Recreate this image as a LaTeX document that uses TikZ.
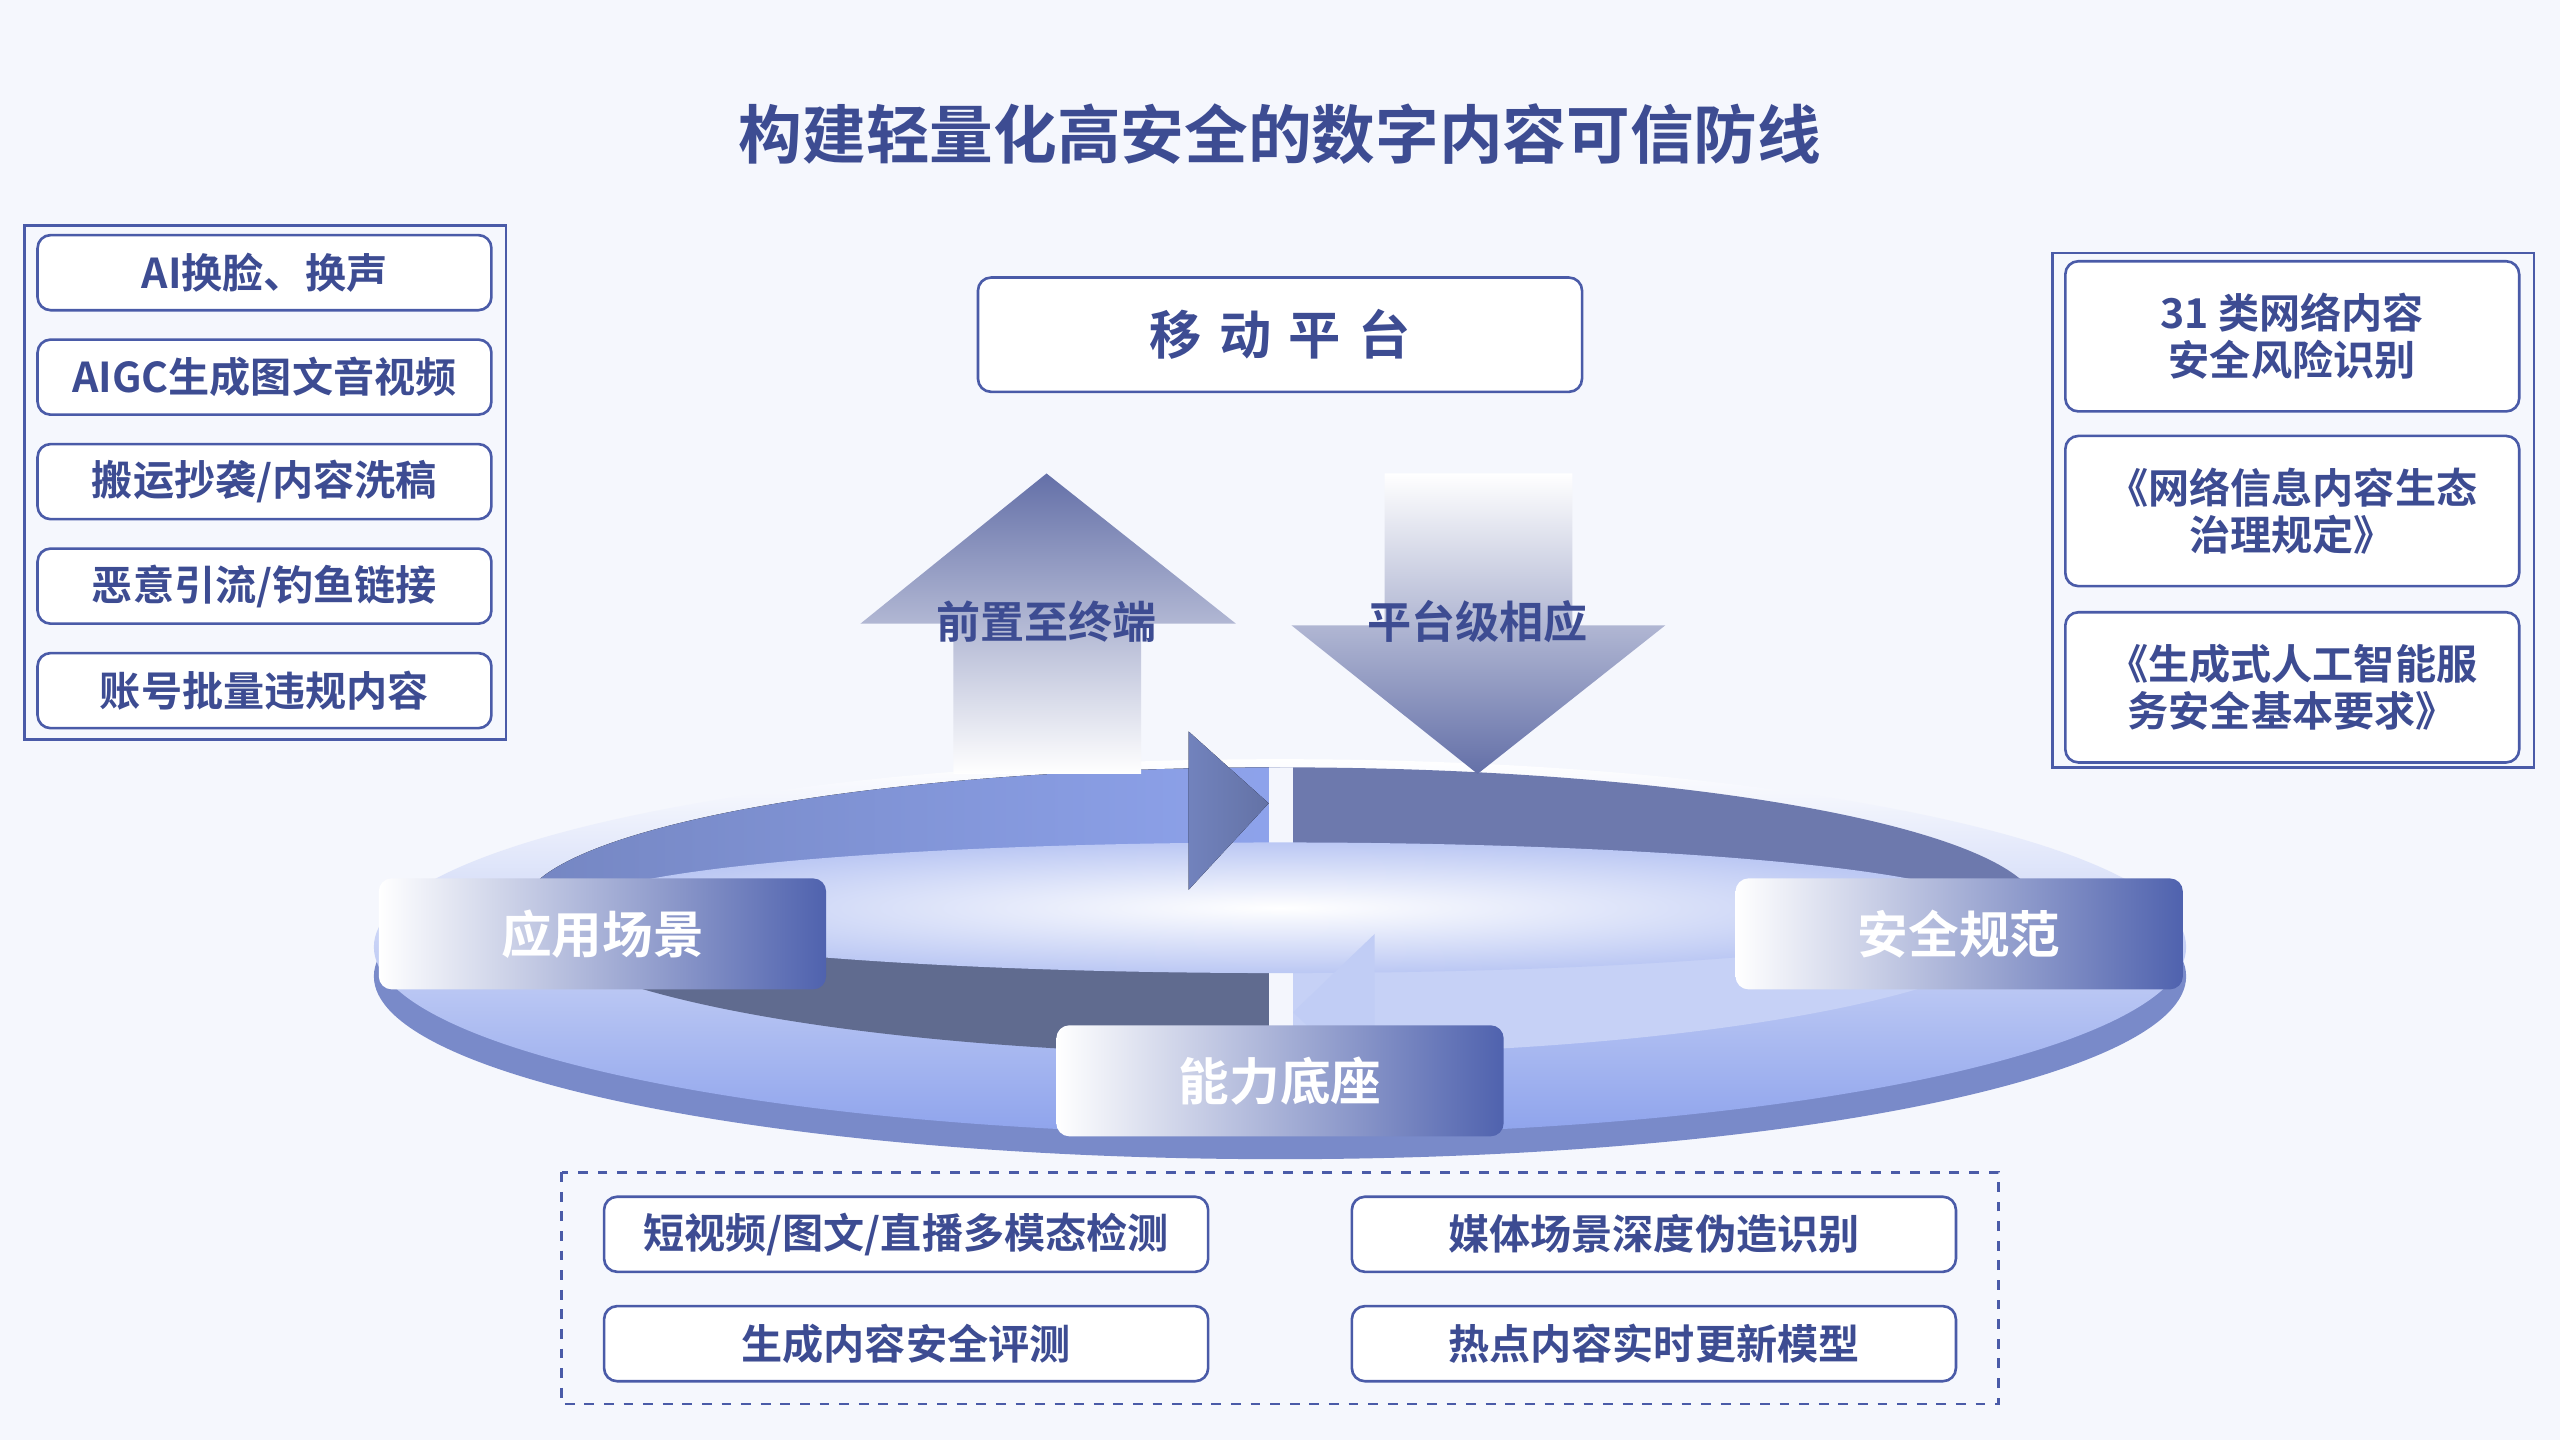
\documentclass[tikz,border=0pt]{standalone}
\usepackage{fontspec}
\setmainfont{Noto Sans CJK SC}[BoldFont={Noto Sans CJK SC Bold}]
\usetikzlibrary{positioning,shadings}
\definecolor{PageBg}{HTML}{F5F7FD}
\definecolor{DeepBlue}{HTML}{3D4C92}
\definecolor{FrameBlue}{HTML}{4A5BA8}
\definecolor{TabBlue}{HTML}{4F62AE}
\definecolor{DiscBlue}{HTML}{8EA3EC}
\tikzset{
  item/.style={draw=FrameBlue, line width=0.8pt, rounded corners=4pt, fill=white,
    minimum width=139pt, minimum height=23pt, inner sep=0pt, text=DeepBlue,
    font=\bfseries\fontsize{12.6}{14.5}\selectfont, align=center},
  wideitem/.style={item, minimum width=185pt},
  tab/.style={rounded corners=4pt, minimum width=137pt, minimum height=34pt, inner sep=0pt,
    left color=white, right color=TabBlue, text=white, font=\bfseries\fontsize{15.5}{17}\selectfont},
  flow/.style={text=DeepBlue, font=\bfseries\fontsize{13.5}{15}\selectfont}
}
\begin{document}
\begin{tikzpicture}[x=0.5pt,y=-0.5pt]
  \fill[PageBg] (0,0) rectangle (1568,882);
  \useasboundingbox (0,0) rectangle (1568,882);

  % title
  \node[text=DeepBlue, font=\bfseries\fontsize{19.5}{22}\selectfont] (title) at (784,82) {构建轻量化高安全的数字内容可信防线};

  % left column of risks
  \draw[FrameBlue, line width=0.8pt] (15,138) rectangle (310,453);
  \node[item] (risk1) at (162,167) {AI换脸、换声};
  \node[item] (risk2) at (162,231) {AIGC生成图文音视频};
  \node[item] (risk3) at (162,295) {搬运抄袭/内容洗稿};
  \node[item] (risk4) at (162,359) {恶意引流/钓鱼链接};
  \node[item] (risk5) at (162,423) {账号批量违规内容};

  % right column of rules
  \draw[FrameBlue, line width=0.8pt] (1257,155) rectangle (1552,470);
  \node[item, minimum height=46pt] (rule1) at (1404,206) {31 类网络内容\\安全风险识别};
  \node[item, minimum height=46pt] (rule2) at (1404,313) {《网络信息内容生态\\治理规定》};
  \node[item, minimum height=46pt] (rule3) at (1404,421) {《生成式人工智能服\\务安全基本要求》};

  % platform
  \node[item, minimum width=185pt, minimum height=35pt, font=\bfseries\fontsize{16}{18}\selectfont] (mobile) at (784,205) {移\,\,动\,\,平\,\,台};

  % disc
  \fill[DiscBlue!85!black] (784,598) ellipse [x radius=555, y radius=112];
  \shade[top color=white, bottom color=DiscBlue] (784,580) ellipse [x radius=555, y radius=115];
  \begin{scope}
    \clip (784,558) ellipse [x radius=465, y radius=88];
    \fill[left color=DiscBlue!70!black, right color=DiscBlue] (0,400) rectangle (784,556);
    \fill[DeepBlue!75] (784,400) rectangle (1568,556);
    \fill[gray!30!DiscBlue!70!black] (0,556) rectangle (784,700);
    \fill[DiscBlue!50] (784,556) rectangle (1568,700);
    \fill[white!90!DiscBlue] (777,460) rectangle (792,700);
    \shade[inner color=white, outer color=DiscBlue!60] (784,556) ellipse [x radius=430, y radius=40];
  \end{scope}
  \fill[left color=DiscBlue!80!black, right color=DiscBlue!70!black] (728,448) -- (777,492) -- (728,545) -- cycle;
  \fill[DiscBlue!55] (842,572) -- (792,620) -- (842,668) -- cycle;

  % up and down arrows
  \shade[top color=DeepBlue!80, bottom color=white]
    (584,474) -- (584,382) -- (527,382) -- (641,290) -- (757,382) -- (699,382) -- (699,474) -- cycle;
  \shade[top color=white, bottom color=DeepBlue!80]
    (848,290) -- (963,290) -- (963,383) -- (1020,383) -- (905,474) -- (791,383) -- (848,383) -- cycle;
  \node[flow] (uplabel) at (641,381) {前置至终端};
  \node[flow] (downlabel) at (905,381) {平台级相应};

  % tabs
  \node[tab] (scene) at (369,572) {应用场景};
  \node[tab] (norm) at (1200,572) {安全规范};
  \node[tab] (base) at (784,662) {能力底座};

  % capabilities
  \draw[FrameBlue, line width=0.8pt, dashed] (344,718) rectangle (1224,860);
  \node[wideitem] (cap1) at (555,756) {短视频/图文/直播多模态检测};
  \node[wideitem] (cap2) at (1013,756) {媒体场景深度伪造识别};
  \node[wideitem] (cap3) at (555,823) {生成内容安全评测};
  \node[wideitem] (cap4) at (1013,823) {热点内容实时更新模型};
\end{tikzpicture}
\end{document}
